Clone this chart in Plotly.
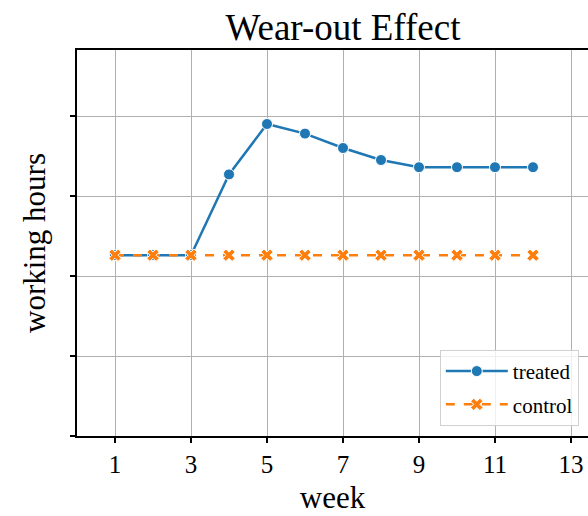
import plotly.graph_objects as go

weeks = [1, 2, 3, 4, 5, 6, 7, 8, 9, 10, 11, 12]
treated = [2.26, 2.26, 2.26, 3.27, 3.90, 3.78, 3.60, 3.45, 3.36, 3.36, 3.36, 3.36]
control = [2.26] * 12
x_ticks = [1, 3, 5, 7, 9, 11, 13]
y_ticks = [0, 1, 2, 3, 4]

FONT = "Liberation Serif"

fig = go.Figure()
fig.add_trace(go.Scatter(
    x=weeks, y=treated, name="treated", mode="lines+markers", legendgroup="a",
    line=dict(color="#1f77b4", width=2.5),
    marker=dict(symbol="circle", size=11, color="#1f77b4", line=dict(color="white", width=1)),
))
fig.add_trace(go.Scatter(
    x=weeks, y=control, name="control", mode="lines+markers", legendgroup="b",
    line=dict(color="#ff7f0e", width=2.5, dash="dash"),
    marker=dict(symbol="x", size=11, color="#ff7f0e", line=dict(color="white", width=1)),
))

fig.update_layout(
    width=588, height=516,
    margin=dict(l=77, r=0, t=50, b=80),
    paper_bgcolor="white", plot_bgcolor="white",
    font=dict(family=FONT, color="black"),
    title=dict(text="Wear-out Effect", x=343 / 588, xanchor="center", xref="container",
               y=1 - 27 / 516, yanchor="middle", yref="container",
               font=dict(family=FONT, size=37, color="black")),
    legend=dict(x=0.71, y=0.223, xanchor="left", yanchor="top",
                bgcolor="rgba(255,255,255,0.8)", bordercolor="#d0d0d0", borderwidth=1,
                font=dict(family=FONT, size=21, color="black"),
                itemwidth=62, tracegroupgap=3),
    showlegend=True,
)
fig.update_xaxes(
    range=[0, 511 / 38], tickvals=x_ticks, ticktext=[str(v) for v in x_ticks],
    showgrid=True, gridcolor="#b0b0b0", gridwidth=1.2,
    showline=True, linecolor="black", linewidth=1.5, mirror=True,
    ticks="outside", ticklen=5, tickwidth=1.5, tickcolor="black",
    tickfont=dict(family=FONT, size=25, color="black"),
    title=dict(text="week", font=dict(family=FONT, size=31, color="black"), standoff=10),
    zeroline=False,
)
fig.update_yaxes(
    range=[0, 386 / 80], tickvals=y_ticks, showticklabels=False,
    showgrid=True, gridcolor="#b0b0b0", gridwidth=1.2,
    showline=True, linecolor="black", linewidth=1.5, mirror=False,
    ticks="outside", ticklen=5, tickwidth=1.5, tickcolor="black",
    title=dict(text="working hours", font=dict(family=FONT, size=31, color="black"), standoff=15),
    zeroline=False,
)

fig.write_html("out.html")
